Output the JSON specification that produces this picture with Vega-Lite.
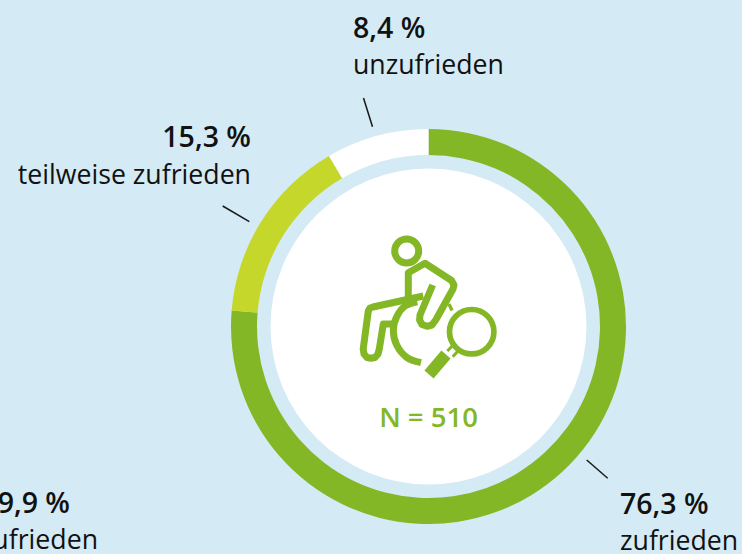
{
"$schema":"https://vega.github.io/schema/vega-lite/v6.json",
"autosize":"none","width":627,"height":455,
"padding":{"left":115,"top":99,"right":0,"bottom":0},
"background":"#D4EAF4",
"view":{"stroke":null},
"config":{"axis":{"domain":false}},
"datasets":{
"segments":[{"group":"zufrieden","share":76.3,"i":1},{"group":"teilweise zufrieden","share":15.3,"i":2},{"group":"unzufrieden","share":8.4,"i":3}],
"labels":[
{"text":"8,4 %","x":353,"y":38,"side":"l","kind":"value"},
{"text":"unzufrieden","x":353,"y":74,"side":"l","kind":"name"},
{"text":"76,3 %","x":620,"y":514,"side":"l","kind":"value"},
{"text":"zufrieden","x":620,"y":550,"side":"l","kind":"name"},
{"text":"15,3 %","x":251,"y":147,"side":"r","kind":"value"},
{"text":"teilweise zufrieden","x":251,"y":184,"side":"r","kind":"name"},
{"text":"9,9 %","x":70,"y":513,"side":"r","kind":"value"},
{"text":"zufrieden","x":98,"y":549,"side":"r","kind":"name"}],
"leaders":[{"x":363.5,"y":98,"x2":372.5,"y2":126.7},{"x":222.7,"y":206,"x2":249.3,"y2":221.7},{"x":586.7,"y":460,"x2":607.7,"y2":478.3}],
"icon":[
{"part":"body","i":1,"x":432.7,"y":285},{"part":"body","i":2,"x":420,"y":315},{"part":"body","i":3,"x":419.6,"y":320},{"part":"body","i":4,"x":422,"y":324.5},{"part":"body","i":5,"x":427,"y":326.3},{"part":"body","i":6,"x":432,"y":325},{"part":"body","i":7,"x":436,"y":319.5},{"part":"body","i":8,"x":453,"y":289},{"part":"body","i":9,"x":454,"y":285},{"part":"body","i":10,"x":451.5,"y":280.5},{"part":"body","i":11,"x":425,"y":263.3},{"part":"body","i":12,"x":408.3,"y":272.7},{"part":"body","i":13,"x":408.3,"y":300},
{"part":"leg","i":1,"x":423.3,"y":296},{"part":"leg","i":2,"x":373,"y":307},{"part":"leg","i":3,"x":370,"y":308},{"part":"leg","i":4,"x":368.3,"y":311},{"part":"leg","i":5,"x":363.2,"y":349},{"part":"leg","i":6,"x":364,"y":354},{"part":"leg","i":7,"x":367,"y":357.5},{"part":"leg","i":8,"x":371,"y":358.3},{"part":"leg","i":9,"x":375,"y":357.5},{"part":"leg","i":10,"x":378,"y":354},{"part":"leg","i":11,"x":379.3,"y":349},{"part":"leg","i":12,"x":383.3,"y":324},{"part":"leg","i":13,"x":396.7,"y":324},
{"part":"stub","i":1,"x":449,"y":308},{"part":"stub","i":2,"x":452,"y":306.5}],
"wheel":[{"i":1,"x":417.3,"y":301.7},{"i":2,"x":405,"y":306},{"i":3,"x":396.7,"y":316.7},{"i":4,"x":393.3,"y":330},{"i":5,"x":396.7,"y":345},{"i":6,"x":406.7,"y":357.3},{"i":7,"x":421,"y":362.7}],
"neck":[{"part":"a","i":1,"x":447.3,"y":351},{"part":"a","i":2,"x":452,"y":346.3},{"part":"b","i":1,"x":452.7,"y":356.7},{"part":"b","i":2,"x":457.3,"y":351.7}],
"handle":[{"i":1,"x":446,"y":354.5},{"i":2,"x":429,"y":374.5}],
"head":[{"what":"Kopf","x":406.7,"y":251}],
"lens":[{"what":"Lupe","x":471.7,"y":331.7}]
},
"layer":[
{"data":{"name":"segments"},"mark":{"type":"arc","radius":197.5,"radius2":171.5},
 "encoding":{"theta":{"field":"share","type":"quantitative","stack":true},"order":{"field":"i","type":"ordinal"},
 "color":{"field":"group","type":"nominal","legend":null,"scale":{"domain":["zufrieden","teilweise zufrieden","unzufrieden"],"range":["#84B726","#C6D72B","#FFFFFF"]}}}},
{"data":{"values":[{"what":"Innenkreis"}]},"mark":{"type":"arc","radius":158,"theta":0,"theta2":6.2832,"fill":"#FFFFFF"},"encoding":{}},
{"data":{"name":"leaders"},"mark":{"type":"rule","stroke":"#1A1A1A","strokeWidth":1.5},
 "encoding":{"x":{"field":"x","type":"quantitative","axis":null,"scale":{"domain":[115,742],"zero":false,"nice":false}},"y":{"field":"y","type":"quantitative","axis":null,"scale":{"domain":[99,554],"range":[0,455],"zero":false,"nice":false}},"x2":{"field":"x2"},"y2":{"field":"y2"}}},
{"data":{"name":"icon"},"mark":{"type":"line","stroke":"#84B726","strokeWidth":7,"strokeJoin":"round"},
 "encoding":{"x":{"field":"x","type":"quantitative"},"y":{"field":"y","type":"quantitative"},"detail":{"field":"part"},"order":{"field":"i","type":"quantitative"}}},
{"data":{"name":"wheel"},"mark":{"type":"line","stroke":"#84B726","strokeWidth":7,"interpolate":"cardinal"},
 "encoding":{"x":{"field":"x","type":"quantitative"},"y":{"field":"y","type":"quantitative"},"order":{"field":"i","type":"quantitative"}}},
{"data":{"name":"neck"},"mark":{"type":"line","stroke":"#84B726","strokeWidth":3},
 "encoding":{"x":{"field":"x","type":"quantitative"},"y":{"field":"y","type":"quantitative"},"detail":{"field":"part"},"order":{"field":"i","type":"quantitative"}}},
{"data":{"name":"handle"},"mark":{"type":"line","stroke":"#84B726","strokeWidth":12,"strokeCap":"butt"},
 "encoding":{"x":{"field":"x","type":"quantitative"},"y":{"field":"y","type":"quantitative"},"order":{"field":"i","type":"quantitative"}}},
{"data":{"name":"head"},"mark":{"type":"point","shape":"circle","size":576,"filled":false,"stroke":"#84B726","strokeWidth":7,"opacity":1},
 "encoding":{"x":{"field":"x","type":"quantitative"},"y":{"field":"y","type":"quantitative"}}},
{"data":{"name":"lens"},"mark":{"type":"point","shape":"circle","size":1971,"filled":false,"stroke":"#84B726","strokeWidth":5.7,"opacity":1},
 "encoding":{"x":{"field":"x","type":"quantitative"},"y":{"field":"y","type":"quantitative"}}},
{"data":{"values":[{"text":"N = 510","x":428.5,"y":427}]},"mark":{"type":"text","align":"center","baseline":"alphabetic","font":"Open Sans","fontSize":27.5,"fontWeight":600,"fill":"#84B726"},
 "encoding":{"x":{"field":"x","type":"quantitative"},"y":{"field":"y","type":"quantitative"},"text":{"field":"text"}}},
{"data":{"name":"labels"},"transform":[{"filter":"datum.side=='l'&&datum.kind=='value'"}],"mark":{"type":"text","align":"left","baseline":"alphabetic","font":"Open Sans","fontSize":28.5,"fontWeight":600,"fill":"#111111"},
 "encoding":{"x":{"field":"x","type":"quantitative"},"y":{"field":"y","type":"quantitative"},"text":{"field":"text"}}},
{"data":{"name":"labels"},"transform":[{"filter":"datum.side=='l'&&datum.kind=='name'"}],"mark":{"type":"text","align":"left","baseline":"alphabetic","font":"Open Sans","fontSize":26.7,"fontWeight":400,"fill":"#111111"},
 "encoding":{"x":{"field":"x","type":"quantitative"},"y":{"field":"y","type":"quantitative"},"text":{"field":"text"}}},
{"data":{"name":"labels"},"transform":[{"filter":"datum.side=='r'&&datum.kind=='value'"}],"mark":{"type":"text","align":"right","baseline":"alphabetic","font":"Open Sans","fontSize":28.5,"fontWeight":600,"fill":"#111111"},
 "encoding":{"x":{"field":"x","type":"quantitative"},"y":{"field":"y","type":"quantitative"},"text":{"field":"text"}}},
{"data":{"name":"labels"},"transform":[{"filter":"datum.side=='r'&&datum.kind=='name'"}],"mark":{"type":"text","align":"right","baseline":"alphabetic","font":"Open Sans","fontSize":26.7,"fontWeight":400,"fill":"#111111"},
 "encoding":{"x":{"field":"x","type":"quantitative"},"y":{"field":"y","type":"quantitative"},"text":{"field":"text"}}}
]
}
